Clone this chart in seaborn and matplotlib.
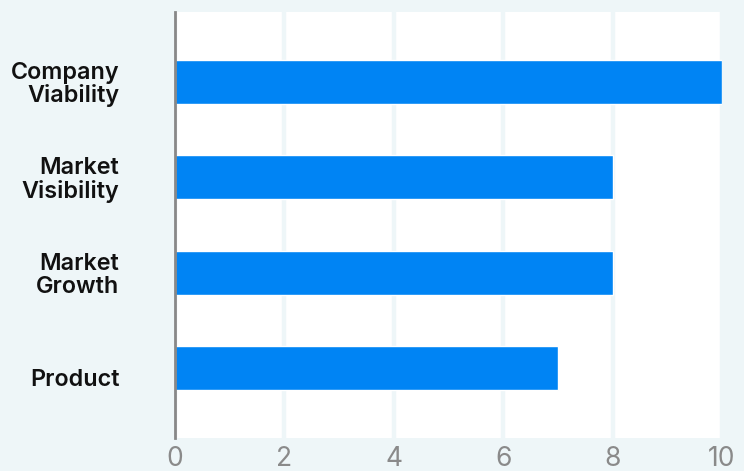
import matplotlib
matplotlib.use("Agg")
import matplotlib.pyplot as plt
import matplotlib.transforms as mtransforms
import seaborn as sns
import pandas as pd

categories = ["Company\nViability", "Market\nVisibility", "Market\nGrowth", "Product"]
values = [10, 8, 8, 7]
xticks = [0, 2, 4, 6, 8, 10]

BG = "#eef6f8"
BAR = "#0084f4"

sns.set_theme(style="white")
plt.rcParams["font.family"] = ["Inter", "DejaVu Sans"]

df = pd.DataFrame({"category": categories, "value": values})

fig = plt.figure(figsize=(7.44, 4.71), dpi=100, facecolor=BG)
ax = fig.add_axes([0.2352, 0.0701, 0.9704 - 0.2352, 0.9745 - 0.0701])
ax.set_facecolor("white")

sns.barplot(data=df, x="value", y="category", orient="h", color=BAR,
            width=0.46, saturation=1, ax=ax, zorder=3)

ax.set_xlim(0, 10)
ax.set_ylim(3.73, -0.73)
ax.set_xticks(xticks)
ax.set_xticklabels([str(t) for t in xticks])
ax.xaxis.grid(True, color=BG, linewidth=3.2, zorder=1)
ax.set_axisbelow(True)
ax.yaxis.grid(False)
for s in ["top", "right", "bottom"]:
    ax.spines[s].set_visible(False)
ax.spines["left"].set_color("#888888")
ax.spines["left"].set_linewidth(2)
ax.spines["left"].set_zorder(5)

ax.set_xlabel("")
ax.set_ylabel("")
ax.tick_params(axis="x", length=0, pad=6, labelsize=19, labelcolor="#8a8a8a")
ax.tick_params(axis="y", length=0, pad=40, labelsize=16.8, labelcolor="#111111")
for lab in ax.get_yticklabels():
    lab.set_fontweight("semibold")
    lab.set_linespacing(1.02)
    lab.set_horizontalalignment("right")
    if "\n" not in lab.get_text():
        off = mtransforms.ScaledTranslation(0, -9 / 100, fig.dpi_scale_trans)
        lab.set_transform(lab.get_transform() + off)

fig.savefig("out.png", dpi=100, facecolor=BG)
